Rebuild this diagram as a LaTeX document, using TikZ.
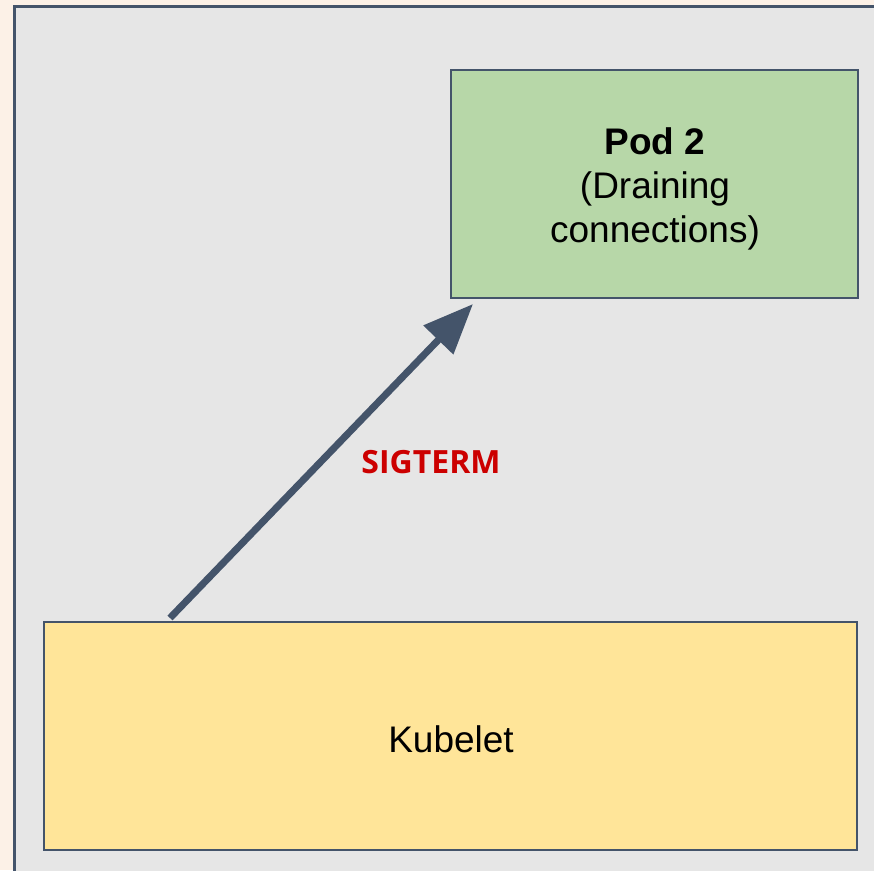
\documentclass[tikz,border=0pt]{standalone}
\usepackage{fontspec}
\setmainfont{Liberation Sans}
\newfontfamily\labelfont{Open Sans}
\usetikzlibrary{arrows.meta}
\definecolor{pagebg}{HTML}{FCF1E7}
\definecolor{panelbg}{HTML}{E6E6E6}
\definecolor{edge}{HTML}{44546A}
\definecolor{podfill}{HTML}{B7D7A8}
\definecolor{kubefill}{HTML}{FFE599}
\definecolor{sigred}{HTML}{CC0000}
\tikzset{
  box/.style={draw=edge, line width=2pt, inner sep=0pt, anchor=north west},
  boxtext/.style={font=\fontsize{37}{44}\selectfont, align=center, text=black},
  signal/.style={draw=edge, line width=7pt, -{Triangle[length=50pt, width=40pt]}},
}
\begin{document}
\begin{tikzpicture}[x=1pt, y=-1pt]
  \useasboundingbox (0,0) rectangle (874,870);
  \fill[pagebg] (0,0) rectangle (874,870);
  \begin{scope}
    \clip (0,0) rectangle (874,870);
    \draw[fill=panelbg, draw=edge, line width=3pt] (14,6) rectangle (890,890);
  \end{scope}
  % pod box and kubelet box
  \draw[box, fill=podfill] (451,70) rectangle (858,298);
  \node[boxtext] (pod) at (655,189) {\textbf{Pod 2}\\(Draining\\connections)};
  \draw[box, fill=kubefill] (44,622) rectangle (857,850);
  \node[boxtext] (kubelet) at (451,739) {Kubelet};
  % signal arrow from the kubelet to the pod
  \coordinate (src) at (170,618);
  \coordinate (dst) at (473,304);
  \draw[signal] (src) -- (dst);
  \node[font=\labelfont\bfseries\fontsize{32}{38}\selectfont, text=sigred] (sig) at (431,462) {SIGTERM};
\end{tikzpicture}
\end{document}
